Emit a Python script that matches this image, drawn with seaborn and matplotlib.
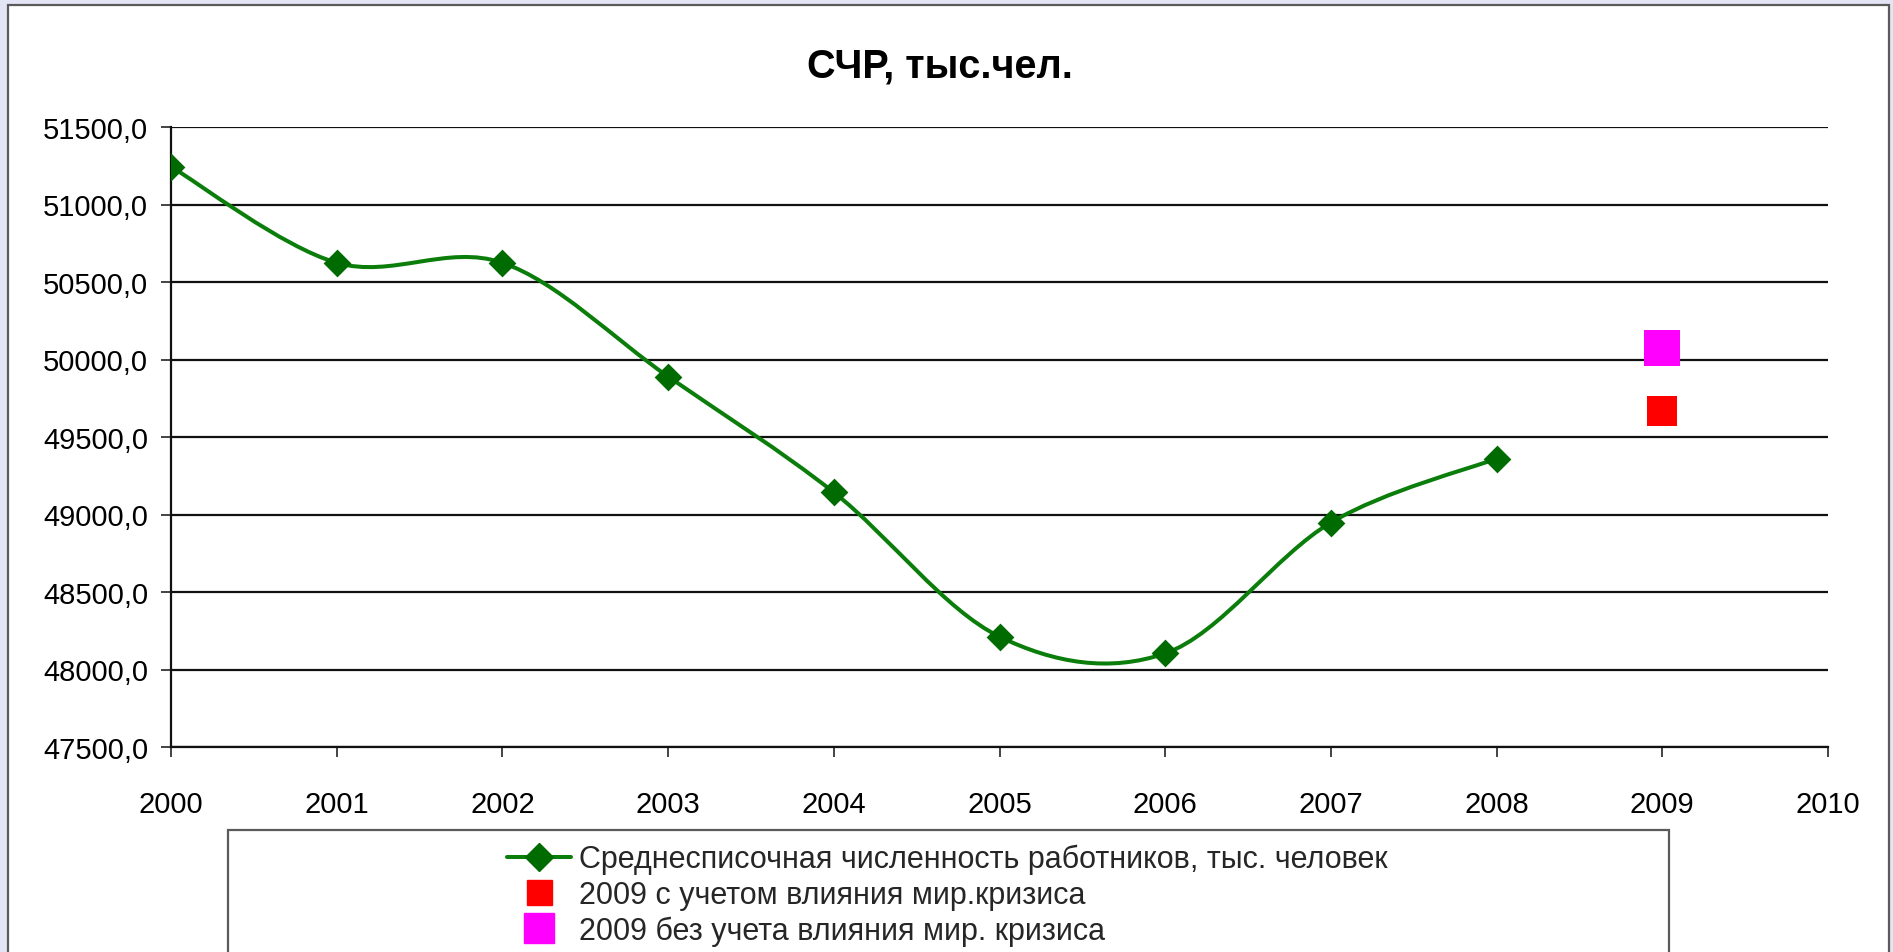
import numpy as np
import matplotlib
matplotlib.use("Agg")
import matplotlib.pyplot as plt
import seaborn as sns
from matplotlib.path import Path
from matplotlib.patches import PathPatch, Rectangle
from matplotlib.lines import Line2D

# ---- data ----
years = [2000, 2001, 2002, 2003, 2004, 2005, 2006, 2007, 2008]
workers = [51244, 50624, 50624, 49890, 49143, 48212, 48104, 48948, 49361]
crisis_year = [2009]
with_crisis = [49670]
without_crisis = [50076]
y_ticks = [47500, 48000, 48500, 49000, 49500, 50000, 50500, 51000, 51500]
x_ticks = [2000, 2001, 2002, 2003, 2004, 2005, 2006, 2007, 2008, 2009, 2010]

title = "СЧР, тыс.чел."
label_main = "Среднесписочная численность работников, тыс. человек"
label_red = "2009 с учетом влияния мир.кризиса"
label_mag = "2009 без учета влияния мир. кризиса"

GREEN = "#0b7d0b"
DKGREEN = "#006b00"
RED = "#ff0000"
MAGENTA = "#ff00ff"

sns.set_theme(style="white")
plt.rcParams['font.family'] = ['Liberation Sans', 'DejaVu Sans']

W, H = 1893, 953
fig = plt.figure(figsize=(W / 100, H / 100), dpi=100, facecolor="#e3e5f4")

# chart area (white with grey border)
fig.add_artist(Rectangle((8 / W, -0.05), (1889 - 8) / W, 1 - 6 / H + 0.05,
                         transform=fig.transFigure, facecolor="white",
                         edgecolor="#5a5a5a", linewidth=1.6, zorder=-10))

ax = fig.add_axes([171 / W, 1 - 748 / H, (1828 - 171) / W, (748 - 128) / H])
ax.set_facecolor("none")

# smoothed line (Bezier through data points, drawn in data coordinates)
xs = np.array(years, float)
ys = np.array(workers, float)
n = len(xs)
verts = [(xs[0], ys[0])]
codes = [Path.MOVETO]
for i in range(n - 1):
    a = i - 1 if i > 0 else 0
    b = i + 2 if i + 2 < n else n - 1
    c1 = (xs[i] + (xs[i + 1] - xs[a]) / 6, ys[i] + (ys[i + 1] - ys[a]) / 6)
    c2 = (xs[i + 1] - (xs[b] - xs[i]) / 6, ys[i + 1] - (ys[b] - ys[i]) / 6)
    verts += [c1, c2, (xs[i + 1], ys[i + 1])]
    codes += [Path.CURVE4] * 3
ax.add_patch(PathPatch(Path(verts, codes), facecolor="none", edgecolor=GREEN,
                       linewidth=2.9, zorder=3, capstyle="round", joinstyle="round"))

sns.scatterplot(x=years, y=workers, marker="D", s=200, color=DKGREEN,
                edgecolor=DKGREEN, linewidth=0, ax=ax, zorder=4, legend=False)
sns.scatterplot(x=crisis_year, y=with_crisis, marker="s", s=470, color=RED,
                edgecolor=RED, linewidth=0, ax=ax, zorder=4, legend=False)
sns.scatterplot(x=crisis_year, y=without_crisis, marker="s", s=680, color=MAGENTA,
                edgecolor=MAGENTA, linewidth=0, ax=ax, zorder=4, legend=False)

ax.set_xlim(2000, 2010)
ax.set_ylim(47500, 51500)
ax.set_xticks(x_ticks)
ax.set_xticklabels([str(v) for v in x_ticks])
ax.set_yticks(y_ticks)
ax.set_yticklabels([f"{v:.1f}".replace(".", ",") for v in y_ticks])
ax.set_xlabel("")
ax.set_ylabel("")

ax.yaxis.grid(True, color="#111111", linewidth=1.6)
ax.xaxis.grid(False)
ax.set_axisbelow(True)
for s in ["top", "right"]:
    ax.spines[s].set_visible(False)
for s in ["left", "bottom"]:
    ax.spines[s].set_visible(True)
    ax.spines[s].set_color("#111111")
    ax.spines[s].set_linewidth(1.6)

ax.tick_params(axis="y", direction="out", length=7.5, width=1.1, color="#111111",
               labelsize=21, labelcolor="black", pad=9, left=True)
ax.tick_params(axis="x", direction="out", length=7, width=1.1, color="#111111",
               labelsize=21, labelcolor="black", pad=24, bottom=True)

fig.text(940 / W, 1 - 67 / H, title, ha="center", va="center",
         fontsize=28.5, fontweight="bold", color="black")

# legend frame
fig.add_artist(Rectangle((228 / W, -0.05), (1669 - 228) / W, 1 - 831 / H + 0.05,
                         transform=fig.transFigure, facecolor="white",
                         edgecolor="#5a5a5a", linewidth=1.6, zorder=-5))

handles = [
    Line2D([0], [0], color=GREEN, lw=2.9, marker="D", markersize=14,
           markerfacecolor=DKGREEN, markeredgecolor=DKGREEN),
    Line2D([0], [0], ls="none", marker="s", markersize=18,
           markerfacecolor=RED, markeredgecolor=RED),
    Line2D([0], [0], ls="none", marker="s", markersize=22,
           markerfacecolor=MAGENTA, markeredgecolor=MAGENTA),
]
fig.legend(handles, [label_main, label_red, label_mag], loc="upper left",
           bbox_to_anchor=(507 / W, 1 - 845 / H), frameon=False, fontsize=22,
           handlelength=2.1, handletextpad=0.25, labelspacing=0.18,
           borderpad=0, borderaxespad=0)

fig.savefig("out.png", dpi=100, facecolor=fig.get_facecolor())
